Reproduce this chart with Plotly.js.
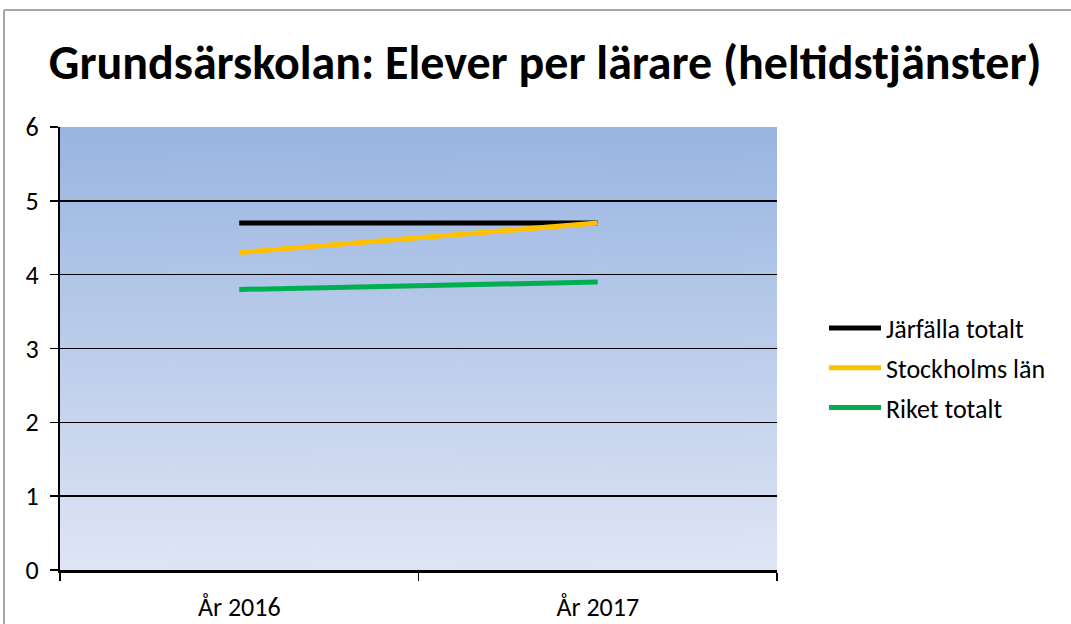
<!DOCTYPE html>
<html><head><meta charset="utf-8">
<script src="https://cdn.plot.ly/plotly-3.0.1.min.js"></script>
<style>html,body{margin:0;padding:0;background:#fff;}#chart{width:1071px;height:624px;}</style>
</head><body><div id="chart"></div>
<script>
const categories = ["År 2016", "År 2017"];
const jarfalla = [4.7, 4.7];
const stockholm = [4.3, 4.7];
const riket = [3.8, 3.9];
const seriesNames = ["Järfälla totalt", "Stockholms län", "Riket totalt"];
const yTicks = [0, 1, 2, 3, 4, 5, 6];

// gradient background image for plot area
const cv = document.createElement('canvas');
cv.width = 10; cv.height = 400;
const ctx = cv.getContext('2d');
const g = ctx.createLinearGradient(0, 0, 0, 400);
g.addColorStop(0, '#99b5e1');
g.addColorStop(1, '#dfe5f5');
ctx.fillStyle = g; ctx.fillRect(0, 0, 10, 400);
const bgURL = cv.toDataURL();

const L = 60, R = 777, T = 127, B = 570;
const px = v => (v - L) / (R - L);
const py = v => (B - v) / (B - T);

const font = "Calibri, Carlito, 'Liberation Sans Narrow', 'Open Sans', sans-serif";
const colors = ['#000000', '#ffc000', '#00b050'];
const vals = [jarfalla, stockholm, riket];
const traces = vals.map((v, i) => ({
  type: 'scatter', mode: 'lines', x: categories, y: v, name: seriesNames[i],
  legendgroup: 'g' + i,
  line: {color: colors[i], width: 5}
}));

const layout = {
  width: 1071, height: 624,
  margin: {l: L, r: 1071 - R, t: T, b: 624 - B},
  paper_bgcolor: '#ffffff', plot_bgcolor: 'rgba(0,0,0,0)',
  title: {text: '<b>Grundsärskolan: Elever per lärare (heltidstjänster)</b>',
    font: {family: font, size: 48, color: '#000'},
    x: 0.509, xanchor: 'center', xref: 'container', y: 1 - 62 / 624, yanchor: 'middle', yref: 'container'},
  xaxis: {type: 'category', range: [-0.5, 1.5], tickson: 'boundaries', ticks: 'outside', ticklen: 8,
    tickwidth: 1.5, tickcolor: '#000', showgrid: false, showline: true, linecolor: '#000', linewidth: 3,
    tickfont: {family: font, size: 26, color: '#000'}, ticklabelstandoff: 12, fixedrange: true},
  yaxis: {range: [0, 6], tickvals: yTicks, ticks: 'outside', ticklen: 8, tickwidth: 1.5, tickcolor: '#000',
    showgrid: true, gridcolor: '#000', gridwidth: 1.5, zeroline: false, showline: true, linecolor: '#000', linewidth: 2,
    tickfont: {family: font, size: 26, color: '#000'}, ticklabelstandoff: 6, fixedrange: true},
  legend: {x: px(824), xanchor: 'left', y: py(368), yanchor: 'middle', traceorder: 'grouped', tracegroupgap: 3,
    font: {family: font, size: 26, color: '#000'}, bgcolor: 'rgba(0,0,0,0)', itemwidth: 52},
  images: [{source: bgURL, xref: 'paper', yref: 'paper', x: 0, y: 1, sizex: 1, sizey: 1,
    sizing: 'stretch', layer: 'below', xanchor: 'left', yanchor: 'top'}],
  shapes: [
    {type: 'line', xref: 'paper', yref: 'paper', x0: px(4), x1: px(1100), y0: py(10), y1: py(10), line: {color: '#a6a6a6', width: 2}},
    {type: 'line', xref: 'paper', yref: 'paper', x0: px(4), x1: px(4), y0: py(10), y1: py(700), line: {color: '#a6a6a6', width: 2}}
  ],
  showlegend: true
};
Plotly.newPlot('chart', traces, layout, {displayModeBar: false, staticPlot: true});
</script></body></html>
